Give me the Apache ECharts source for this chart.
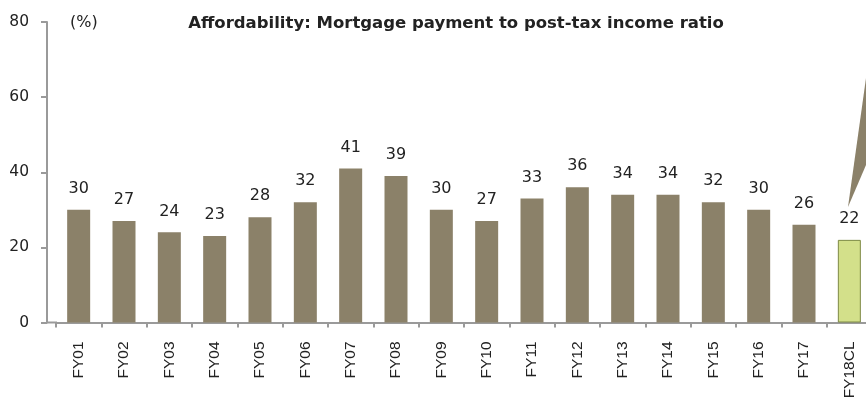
<!DOCTYPE html>
<html><head><meta charset="utf-8">
<script src="https://cdn.jsdelivr.net/npm/echarts@6/dist/echarts.min.js"></script>
<style>html,body{margin:0;padding:0;background:#fff}#c{width:866px;height:399px}</style>
</head><body><div id="c"></div>
<script>
const categories = ['FY01','FY02','FY03','FY04','FY05','FY06','FY07','FY08','FY09','FY10','FY11','FY12','FY13','FY14','FY15','FY16','FY17','FY18CL'];
const values = [30,27,24,23,28,32,41,39,30,27,33,36,34,34,32,30,26,22];
const yTicks = [0,20,40,60,80];
const highlightIndex = 17;

const chart = echarts.init(document.getElementById('c'));
const data = values.map((v,i)=> i===highlightIndex
  ? {value:v, itemStyle:{color:'#d3e08a', borderColor:'#7d8a45', borderWidth:1}}
  : {value:v});
chart.setOption({
  animation:false,
  title:[
    {text:'Affordability: Mortgage payment to post-tax income ratio', left:451, top:10, textAlign:'center',
     textStyle:{fontFamily:'DejaVu Sans', fontWeight:'bold', fontSize:16.5, color:'#222'}},
    {text:'(%)', left:65, top:10, textStyle:{fontFamily:'DejaVu Sans', fontWeight:'normal', fontSize:16, color:'#222'}}
  ],
  grid:{left:56, right:-6, top:22, bottom:76.5, containLabel:false, outerBoundsMode:'none'},
  xAxis:{type:'category', data:categories,
    axisLine:{lineStyle:{color:'#9a9a9a', width:2}},
    axisTick:{show:true, length:5, lineStyle:{color:'#9a9a9a', width:2}},
    axisLabel:{rotate:90, margin:19, fontFamily:'Liberation Sans', fontSize:15.5, color:'#222', interval:0}},
  yAxis:{type:'value', min:0, max:80, interval:20, offset:9,
    axisLine:{show:true, lineStyle:{color:'#9a9a9a', width:2}},
    axisTick:{show:true, length:6, lineStyle:{color:'#9a9a9a', width:2}},
    splitLine:{show:false},
    axisLabel:{margin:18, fontFamily:'DejaVu Sans', fontSize:15.5, color:'#222',
      formatter:v=> yTicks.includes(v)? String(v):''}},
  series:[{type:'bar', data:data, barWidth:23,
    itemStyle:{color:'#8b8169'},
    label:{show:true, position:'top', distance:13, fontFamily:'DejaVu Sans', fontSize:16, color:'#222'}}],
  graphic:[
    {type:'line', shape:{x1:46, y1:322.5, x2:57, y2:322.5}, style:{stroke:'#9a9a9a', lineWidth:2}},
    {type:'polygon', shape:{points:[[848,207],[866,78],[866,165]]}, style:{fill:'#8b8169'}}
  ]
});
</script></body></html>
